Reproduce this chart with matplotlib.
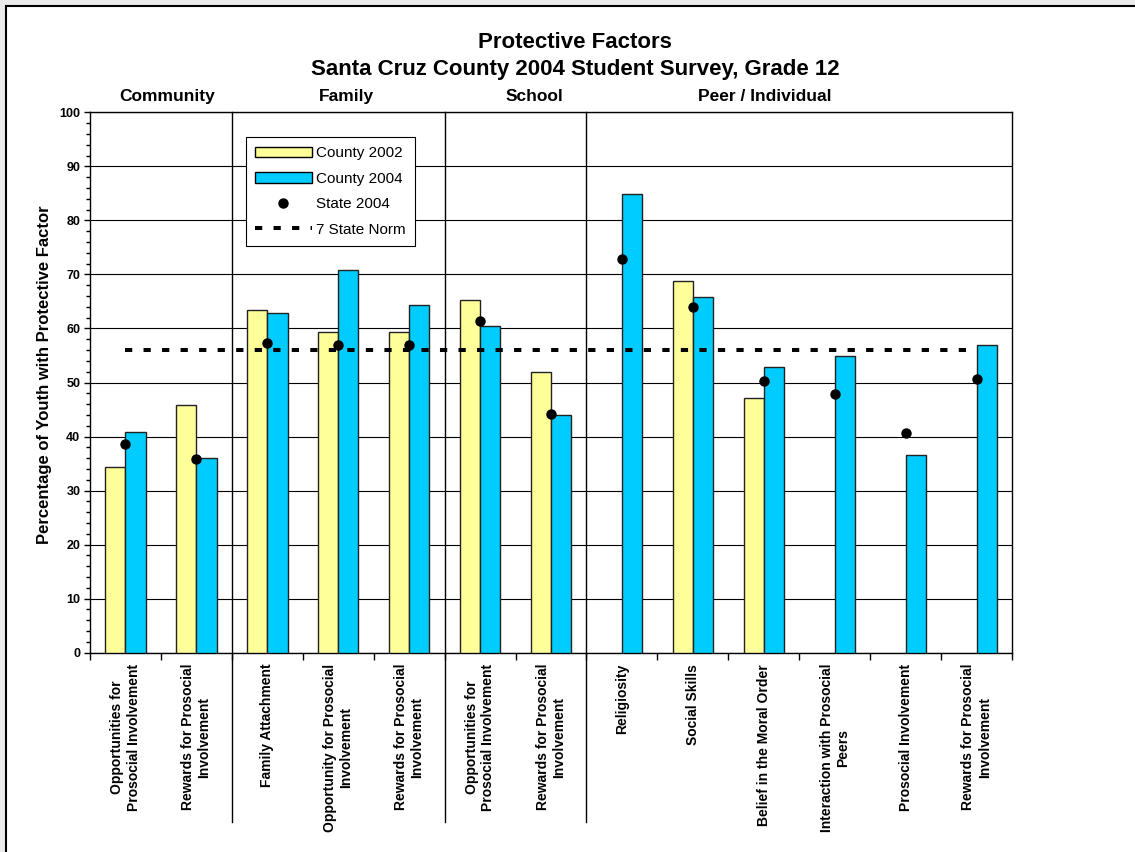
import matplotlib
matplotlib.use("Agg")
from matplotlib import pyplot as plt
from matplotlib.patches import Rectangle, Patch
from matplotlib.lines import Line2D
import numpy as np

plt.rcParams['font.family'] = ['Liberation Sans', 'DejaVu Sans']

categories = [
    "Opportunities for\nProsocial Involvement",
    "Rewards for Prosocial\nInvolvement",
    "Family Attachment",
    "Opportunity for Prosocial\nInvolvement",
    "Rewards for Prosocial\nInvolvement",
    "Opportunities for\nProsocial Involvement",
    "Rewards for Prosocial\nInvolvement",
    "Religiosity",
    "Social Skills",
    "Belief in the Moral Order",
    "Interaction with Prosocial\nPeers",
    "Prosocial Involvement",
    "Rewards for Prosocial\nInvolvement",
]
county_2002 = [34.4, 45.9, 63.5, 59.4, 59.4, 65.2, 51.9, np.nan, 68.7, 47.1, np.nan, np.nan, np.nan]
county_2004 = [40.9, 36.1, 62.9, 70.8, 64.3, 60.5, 44.0, 84.9, 65.8, 52.8, 54.9, 36.5, 57.0]
state_2004 = [38.7, 35.8, 57.3, 56.9, 56.9, 61.4, 44.1, 72.8, 63.9, 50.3, 47.9, 40.6, 50.6]
state_norm = [56] * 13

groups = ["Community", "Family", "School", "Peer / Individual"]
group_x = [0.59, 3.12, 5.76, 9.02]
group_breaks = [1.5, 4.5, 6.5]

yellow = "#FFFF99"
blue = "#00CCFF"

fig = plt.figure(figsize=(11.35, 8.52), dpi=100)
fig.patch.set_facecolor("#EBEBEB")
fig.add_artist(Rectangle((6 / 1135, -0.1), 1.2, 1 - 6 / 852 + 0.1,
                         transform=fig.transFigure, fc="white", ec="black",
                         lw=1.5, zorder=-10))

ax = fig.add_axes([90 / 1135, 1 - 652.7 / 852, 922 / 1135, 540.4 / 852])
ax.patch.set_alpha(0)
x = np.arange(len(categories))
w = 1 / 3.5

ax.bar(x - w / 2, county_2002, w, color=yellow, edgecolor="#222222", lw=1, zorder=3)
ax.bar(x + w / 2, county_2004, w, color=blue, edgecolor="#222222", lw=1, zorder=3)
ax.plot(x, state_2004, "o", color="black", ms=6.5, zorder=5)
ax.plot(x, state_norm, color="black", lw=2.9, ls=(0, (1.8, 2.8)),
        dash_capstyle="butt", zorder=4)

ax.set_xlim(-0.5, len(categories) - 0.5)
ax.set_ylim(0, 100)
ax.set_yticks(range(0, 101, 10))
ax.set_yticks(range(0, 101, 2), minor=True)
ax.yaxis.grid(True, color="black", lw=0.8, zorder=0)
ax.set_axisbelow(True)
for lbl in ax.get_yticklabels():
    lbl.set_fontweight("bold")
    lbl.set_fontsize(9)
ax.tick_params(axis="y", which="major", length=4, width=1, pad=3)
ax.tick_params(axis="y", which="minor", length=3, width=1)

ax.set_xticks(np.arange(-0.5, len(categories), 1))
ax.set_xticklabels([])
ax.set_xticks(x, minor=True)
ax.set_xticklabels(categories, minor=True, rotation=90, ha="center", va="top",
                   multialignment="center", fontsize=10, fontweight="bold")
ax.tick_params(axis="x", which="major", length=5, width=1)
ax.tick_params(axis="x", which="minor", length=0, pad=8)

for s in ax.spines.values():
    s.set_color("black")
    s.set_linewidth(1)

for b in group_breaks:
    ax.plot([b, b], [100, -31.3], color="black", lw=1, clip_on=False, zorder=2)

for g, gx in zip(groups, group_x):
    ax.text(gx, 103.0, g, ha="center", va="center", fontsize=12.5, fontweight="bold")

ax.set_ylabel("Percentage of Youth with Protective Factor", fontsize=12,
              fontweight="bold")
ax.yaxis.set_label_coords(-0.041, 0.514)

fig.text(575 / 1135, 1 - 42 / 852, "Protective Factors", ha="center", va="center",
         fontsize=16, fontweight="bold")
fig.text(575 / 1135, 1 - 70 / 852, "Santa Cruz County 2004 Student Survey, Grade 12",
         ha="center", va="center", fontsize=16, fontweight="bold")

handles = [
    Patch(facecolor=yellow, edgecolor="black", lw=1),
    Patch(facecolor=blue, edgecolor="black", lw=1),
    Line2D([], [], marker="o", color="black", ls="none", ms=6.5),
    Line2D([], [], color="black", lw=2.9, ls=(0, (1.8, 2.8)), dash_capstyle="butt"),
]
labels = ["County 2002", "County 2004", "State 2004", "7 State Norm"]
leg = ax.legend(handles, labels, loc="upper left", bbox_to_anchor=(0.169, 0.954),
                borderaxespad=0, fontsize=11, fancybox=False, framealpha=1,
                edgecolor="black", handlelength=3.7, handleheight=0.65,
                labelspacing=0.75, handletextpad=0.3, borderpad=0.6)
leg.get_frame().set_linewidth(0.8)
leg.set_zorder(6)

fig.savefig("out.png", dpi=100, facecolor=fig.get_facecolor())
